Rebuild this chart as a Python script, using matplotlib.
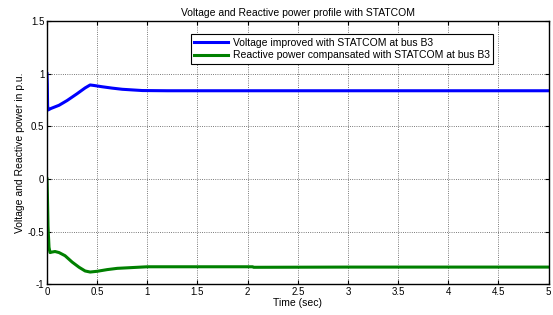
import matplotlib
matplotlib.use("Agg")
import matplotlib.pyplot as plt

plt.rcParams["font.family"] = ["Liberation Sans", "DejaVu Sans"]

# voltage at bus B3 (p.u.)
t_volt = [0.0, 0.003, 0.006, 0.01, 0.02, 0.04, 0.08, 0.12, 0.2, 0.3, 0.38, 0.43, 0.47, 0.55, 0.65, 0.75, 0.85, 0.95, 1.2, 2.0, 3.0, 4.0, 5.0]
v_volt = [1.0, 0.9, 0.7, 0.655, 0.66, 0.67, 0.685, 0.70, 0.745, 0.81, 0.865, 0.893, 0.888, 0.876, 0.863, 0.852, 0.846, 0.84, 0.838, 0.838, 0.838, 0.838, 0.838]

# reactive power of STATCOM (p.u.)
t_q = [0.0, 0.004, 0.01, 0.02, 0.03, 0.05, 0.08, 0.12, 0.18, 0.25, 0.32, 0.38, 0.43, 0.5, 0.6, 0.7, 0.8, 0.9, 1.0, 1.5, 2.05, 2.06, 3.0, 4.0, 5.0]
v_q = [0.0, -0.15, -0.45, -0.65, -0.70, -0.695, -0.69, -0.70, -0.73, -0.79, -0.84, -0.875, -0.885, -0.878, -0.862, -0.85, -0.845, -0.84, -0.835, -0.835, -0.835, -0.84, -0.838, -0.838, -0.838]

fig, ax = plt.subplots(figsize=(5.53, 3.15), dpi=100)
fig.subplots_adjust(left=0.085, right=0.992, top=0.933, bottom=0.098)

ax.plot(t_volt, v_volt, color=(0, 0, 1), linewidth=2.2,
        label="Voltage improved with STATCOM at bus B3")
ax.plot(t_q, v_q, color=(0, 0.5, 0), linewidth=2.2,
        label="Reactive power compansated with STATCOM at bus B3")

ax.set_xlim(0, 5)
ax.set_ylim(-1, 1.5)
ax.set_xticks([0, 0.5, 1, 1.5, 2, 2.5, 3, 3.5, 4, 4.5, 5])
ax.set_xticklabels(["0", "0.5", "1", "1.5", "2", "2.5", "3", "3.5", "4", "4.5", "5"])
ax.set_yticks([-1, -0.5, 0, 0.5, 1, 1.5])
ax.set_yticklabels(["-1", "-0.5", "0", "0.5", "1", "1.5"])
ax.tick_params(direction="in", top=True, right=True, labelsize=7, length=3, pad=2)
ax.grid(True, color="0.3", linestyle=":", linewidth=0.6)
for s in ax.spines.values():
    s.set_linewidth(1.0)

ax.set_title("Voltage and Reactive power profile with STATCOM", fontsize=7.5, pad=4)
ax.set_xlabel("Time (sec)", fontsize=7.5, labelpad=1)
ax.set_ylabel("Voltage and Reactive power in p.u.", fontsize=7.5, labelpad=2)

leg = ax.legend(loc="upper left", bbox_to_anchor=(0.276, 0.97), fontsize=7.5,
                fancybox=False, framealpha=1, edgecolor="black",
                handlelength=3.2, borderpad=0.35, labelspacing=0.25, handletextpad=0.5)
leg.get_frame().set_linewidth(0.8)

fig.savefig("out.png")
